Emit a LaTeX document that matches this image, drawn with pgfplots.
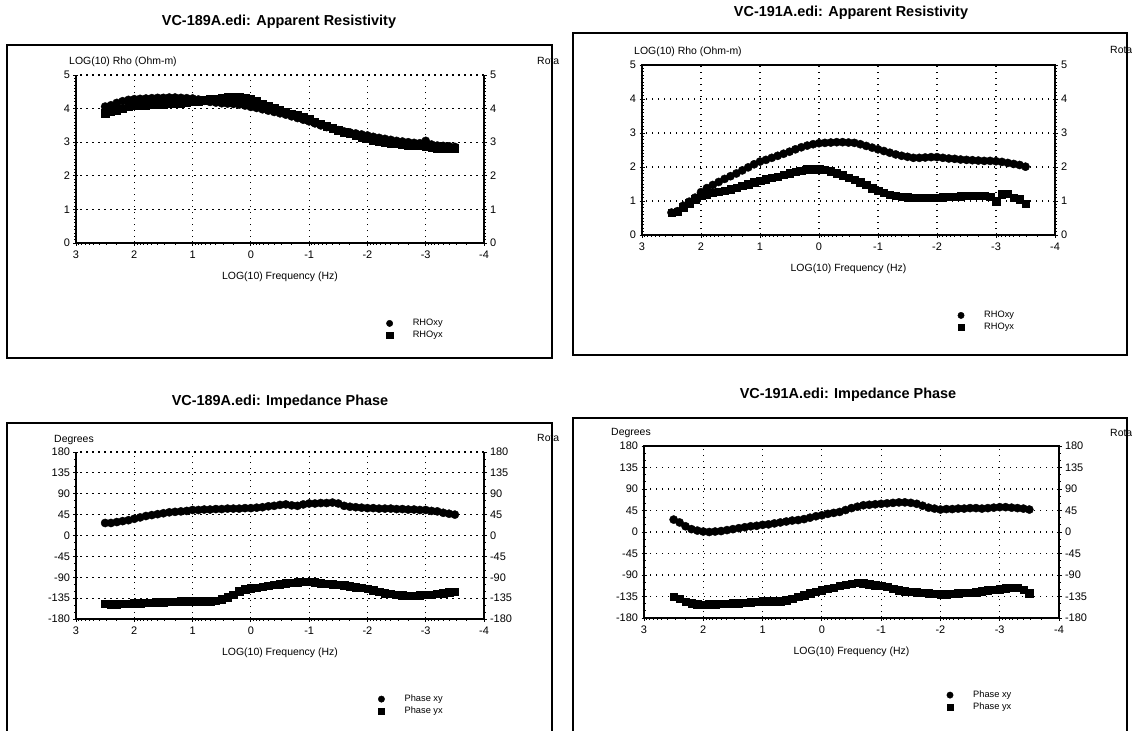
\documentclass[border=0pt]{standalone}
\usepackage{fontspec}
\setmainfont{Liberation Sans}
\usepackage{pgfplots}
\usepackage{pgfplotstable}
\pgfplotsset{compat=1.18}

\newcommand\ttl{\fontsize{14.5}{17}\selectfont\bfseries}
\newcommand\lab{\fontsize{10.5}{12}\selectfont}
\newcommand\tk{\fontsize{11}{13}\selectfont}
\newcommand\lgd{\fontsize{9.3}{11}\selectfont}

% x = log10 frequency, xy / yx = log10 rho
\pgfplotstableread{
x xy yx
2.5 4.06 3.86
2.4 4.10 3.90
2.3 4.17 3.95
2.2 4.22 4.00
2.1 4.26 4.05
2.0 4.28 4.08
1.9 4.29 4.09
1.8 4.30 4.10
1.7 4.31 4.11
1.6 4.32 4.12
1.5 4.32 4.13
1.4 4.33 4.14
1.3 4.33 4.15
1.2 4.32 4.16
1.1 4.31 4.18
1.0 4.30 4.20
0.9 4.27 4.22
0.8 4.23 4.25
0.7 4.20 4.28
0.6 4.18 4.30
0.5 4.16 4.33
0.4 4.15 4.35
0.3 4.14 4.35
0.2 4.12 4.34
0.1 4.09 4.31
0.0 4.05 4.28
-0.1 4.02 4.22
-0.2 3.98 4.15
-0.3 3.94 4.08
-0.4 3.90 4.02
-0.5 3.86 3.96
-0.6 3.82 3.90
-0.7 3.77 3.85
-0.8 3.72 3.80
-0.9 3.67 3.74
-1.0 3.62 3.68
-1.1 3.56 3.61
-1.2 3.50 3.55
-1.3 3.45 3.48
-1.4 3.40 3.42
-1.5 3.36 3.36
-1.6 3.32 3.30
-1.7 3.29 3.25
-1.8 3.26 3.20
-1.9 3.23 3.15
-2.0 3.20 3.10
-2.1 3.16 3.06
-2.2 3.13 3.03
-2.3 3.10 3.00
-2.4 3.07 2.97
-2.5 3.04 2.95
-2.6 3.02 2.92
-2.7 3.00 2.91
-2.8 2.98 2.90
-2.9 2.97 2.89
-3.0 3.04 2.88
-3.1 2.93 2.85
-3.2 2.90 2.82
-3.3 2.89 2.81
-3.4 2.88 2.80
-3.5 2.86 2.82
}\rhoA

\pgfplotstableread{
x xy yx
2.5 0.66 0.66
2.4 0.70 0.68
2.3 0.86 0.82
2.2 0.98 0.94
2.1 1.10 1.05
2.0 1.26 1.15
1.9 1.38 1.20
1.8 1.47 1.24
1.7 1.56 1.27
1.6 1.65 1.31
1.5 1.73 1.35
1.4 1.81 1.40
1.3 1.90 1.45
1.2 1.99 1.50
1.1 2.08 1.55
1.0 2.16 1.60
0.9 2.21 1.64
0.8 2.27 1.68
0.7 2.33 1.72
0.6 2.39 1.77
0.5 2.45 1.82
0.4 2.52 1.86
0.3 2.58 1.90
0.2 2.63 1.93
0.1 2.67 1.94
0.0 2.70 1.94
-0.1 2.71 1.92
-0.2 2.72 1.88
-0.3 2.73 1.82
-0.4 2.73 1.76
-0.5 2.72 1.69
-0.6 2.71 1.62
-0.7 2.67 1.55
-0.8 2.62 1.48
-0.9 2.57 1.38
-1.0 2.52 1.30
-1.1 2.47 1.24
-1.2 2.42 1.19
-1.3 2.37 1.15
-1.4 2.33 1.13
-1.5 2.30 1.11
-1.6 2.27 1.10
-1.7 2.27 1.10
-1.8 2.28 1.10
-1.9 2.29 1.10
-2.0 2.29 1.10
-2.1 2.27 1.11
-2.2 2.25 1.12
-2.3 2.24 1.13
-2.4 2.22 1.14
-2.5 2.21 1.15
-2.6 2.20 1.15
-2.7 2.19 1.16
-2.8 2.18 1.16
-2.9 2.18 1.12
-3.0 2.17 1.00
-3.1 2.15 1.20
-3.2 2.12 1.22
-3.3 2.09 1.10
-3.4 2.06 1.05
-3.5 2.01 0.92
}\rhoB

\pgfplotstableread{
x xy yx
2.5 27 -147
2.4 27 -148
2.3 29 -148
2.2 31 -147
2.1 33 -147
2.0 36 -146
1.9 39 -146
1.8 42 -145
1.7 44 -145
1.6 46 -144
1.5 48 -144
1.4 50 -143
1.3 51 -143
1.2 52 -142
1.1 53 -142
1.0 55 -142
0.9 55 -142
0.8 56 -142
0.7 56 -142
0.6 57 -141
0.5 57 -137
0.4 58 -133
0.3 58 -127
0.2 58 -120
0.1 59 -116
0.0 59 -114
-0.1 60 -112
-0.2 61 -110
-0.3 63 -108
-0.4 64 -106
-0.5 66 -105
-0.6 67 -103
-0.7 65 -102
-0.8 64 -101
-0.9 67 -100
-1.0 69 -100
-1.1 69 -101
-1.2 70 -103
-1.3 70 -104
-1.4 71 -105
-1.5 69 -106
-1.6 64 -107
-1.7 62 -109
-1.8 61 -111
-1.9 60 -113
-2.0 59 -115
-2.1 59 -118
-2.2 58 -121
-2.3 58 -124
-2.4 58 -126
-2.5 57 -128
-2.6 57 -129
-2.7 56 -130
-2.8 56 -130
-2.9 55 -129
-3.0 55 -128
-3.1 53 -127
-3.2 52 -126
-3.3 49 -124
-3.4 47 -122
-3.5 45 -121
}\phaA

\pgfplotstableread{
x xy yx
2.5 26 -135
2.4 20 -140
2.3 12 -146
2.2 6 -149
2.1 3 -151
2.0 1 -152
1.9 0 -151
1.8 1 -151
1.7 2 -150
1.6 4 -150
1.5 6 -149
1.4 8 -149
1.3 10 -148
1.2 12 -147
1.1 13 -146
1.0 15 -145
0.9 16 -145
0.8 18 -145
0.7 20 -145
0.6 22 -143
0.5 24 -140
0.4 25 -136
0.3 27 -132
0.2 30 -128
0.1 33 -125
0.0 35 -122
-0.1 38 -119
-0.2 40 -116
-0.3 42 -113
-0.4 46 -110
-0.5 50 -108
-0.6 53 -106
-0.7 56 -107
-0.8 57 -109
-0.9 58 -111
-1.0 59 -112
-1.1 60 -115
-1.2 61 -119
-1.3 62 -122
-1.4 62 -124
-1.5 61 -125
-1.6 59 -126
-1.7 55 -127
-1.8 51 -128
-1.9 49 -129
-2.0 47 -130
-2.1 48 -130
-2.2 48 -129
-2.3 49 -128
-2.4 49 -127
-2.5 50 -127
-2.6 50 -126
-2.7 49 -124
-2.8 50 -122
-2.9 51 -121
-3.0 52 -120
-3.1 52 -118
-3.2 51 -117
-3.3 50 -116
-3.4 49 -121
-3.5 47 -128
}\phaB

\pgfplotsset{
  mtbase/.style={
    scale only axis, x dir=reverse, xmin=-4, xmax=3,
    tick style={black, line width=0.8bp},
    major tick length=5bp, minor tick length=3bp, tick align=center,
    ticklabel style={font=\tk},
    /pgf/number format/assume math mode=true,
    axis line style={black, line width=1.3bp},
  },
  mtmain/.style={mtbase,
    xtick={3,2,1,0,-1,-2,-3,-4},
    minor xtick={2.954,2.903,2.845,2.778,2.699,2.602,2.477,2.301,
      1.954,1.903,1.845,1.778,1.699,1.602,1.477,1.301,
      0.954,0.903,0.845,0.778,0.699,0.602,0.477,0.301,
      -0.046,-0.097,-0.155,-0.222,-0.301,-0.398,-0.523,-0.699,
      -1.046,-1.097,-1.155,-1.222,-1.301,-1.398,-1.523,-1.699,
      -2.046,-2.097,-2.155,-2.222,-2.301,-2.398,-2.523,-2.699,
      -3.046,-3.097,-3.155,-3.222,-3.301,-3.398,-3.523,-3.699},
    xtick pos=left, ytick pos=left,
    xticklabel style={yshift=-2bp},
    grid=major,
    grid style={black, line width=1.2bp, dash pattern=on 1.5bp off 4.5bp},
    xlabel={LOG(10) Frequency (Hz)},
    xlabel style={font=\lab, at={(axis description cs:0.5,0)}, anchor=center, yshift=-34bp},
    legend cell align=left,
    legend image post style={mark size=3.2bp},
    legend style={draw=none, fill=none, font=\lgd, anchor=north west,
      /tikz/every odd column/.append style={column sep=18bp}},
  },
  mtright/.style={mtbase, axis x line=none, axis y line*=right, xtick=\empty},
  rho/.style={ymin=0, ymax=5, ytick={0,1,2,3,4,5}, minor y tick num=9},
  pha/.style={ymin=-180, ymax=180, ytick={-180,-135,-90,-45,0,45,90,135,180}, minor y tick num=2},
  sxy/.style={only marks, mark=*, mark size=4.1bp, black, mark options={fill=black}},
  syx/.style={only marks, mark=square*, mark size=3.7bp, black, mark options={fill=black}},
}

\begin{document}
\begin{tikzpicture}
\useasboundingbox (0,0) rectangle (1132bp,-731bp);
\fill[white] (0,0) rectangle (1132bp,-731bp);
\clip (0,0) rectangle (1132bp,-731bp);

% frames
\draw[line width=1.8bp] (7bp,-45bp) rectangle (552bp,-358bp);
\draw[line width=1.8bp] (573bp,-33bp) rectangle (1127bp,-355bp);
\draw[line width=1.8bp] (7bp,-740bp) -- (7bp,-423bp) -- (552bp,-423bp) -- (552bp,-740bp);
\draw[line width=1.8bp] (573bp,-740bp) -- (573bp,-418bp) -- (1127bp,-418bp) -- (1127bp,-740bp);

% titles and labels
\node[font=\ttl] at (279bp,-22bp) {VC-189A.edi: Apparent Resistivity};
\node[font=\ttl] at (851bp,-13bp) {VC-191A.edi: Apparent Resistivity};
\node[font=\ttl] at (280bp,-402bp) {VC-189A.edi: Impedance Phase};
\node[font=\ttl] at (848bp,-395bp) {VC-191A.edi: Impedance Phase};
\node[font=\lab, anchor=west, inner sep=0pt] at (69bp,-62bp) {LOG(10) Rho (Ohm-m)};
\node[font=\lab, anchor=west, inner sep=0pt] at (634bp,-52bp) {LOG(10) Rho (Ohm-m)};
\node[font=\lab, anchor=west, inner sep=0pt] at (54bp,-440bp) {Degrees};
\node[font=\lab, anchor=west, inner sep=0pt] at (611bp,-433bp) {Degrees};
\node[font=\lab, anchor=west, inner sep=0pt] at (537bp,-61bp) {Rota};
\node[font=\lab, anchor=west, inner sep=0pt] at (1110bp,-50bp) {Rota};
\node[font=\lab, anchor=west, inner sep=0pt] at (537bp,-438bp) {Rota};
\node[font=\lab, anchor=west, inner sep=0pt] at (1110bp,-433bp) {Rota};

% VC-189A resistivity
\begin{axis}[mtmain, rho, at={(76bp,-243bp)}, anchor=south west, width=408bp, height=168bp,
  axis x line*=bottom, axis y line*=left, x axis line style={-}, y axis line style={-},
  legend style={at={(axis description cs:0.753,-0.43)}}]
\addplot[sxy] table[x=x, y=xy] {\rhoA};
\addplot[syx] table[x=x, y=yx] {\rhoA};
\legend{RHOxy, RHOyx}
\end{axis}
\begin{axis}[mtright, rho, at={(76bp,-243bp)}, anchor=south west, width=408bp, height=168bp, y axis line style={-}]
\end{axis}

% VC-191A resistivity
\begin{axis}[mtmain, rho, at={(642bp,-235bp)}, anchor=south west, width=413bp, height=170bp,
  legend style={at={(axis description cs:0.757,-0.425)}}]
\addplot[sxy] table[x=x, y=xy] {\rhoB};
\addplot[syx] table[x=x, y=yx] {\rhoB};
\legend{RHOxy, RHOyx}
\end{axis}
\begin{axis}[mtright, rho, at={(642bp,-235bp)}, anchor=south west, width=413bp, height=170bp, y axis line style={-}]
\end{axis}

% VC-189A phase
\begin{axis}[mtmain, pha, at={(76bp,-619bp)}, anchor=south west, width=408bp, height=167bp,
  axis x line*=bottom, axis y line*=left, x axis line style={-}, y axis line style={-},
  legend style={at={(axis description cs:0.733,-0.43)}}]
\addplot[sxy] table[x=x, y=xy] {\phaA};
\addplot[syx] table[x=x, y=yx] {\phaA};
\legend{Phase xy, Phase yx}
\end{axis}
\begin{axis}[mtright, pha, at={(76bp,-619bp)}, anchor=south west, width=408bp, height=167bp, y axis line style={-}]
\end{axis}

% VC-191A phase
\begin{axis}[mtmain, pha, at={(644bp,-618bp)}, anchor=south west, width=415bp, height=172bp,
  legend style={at={(axis description cs:0.722,-0.4)}}]
\addplot[sxy] table[x=x, y=xy] {\phaB};
\addplot[syx] table[x=x, y=yx] {\phaB};
\legend{Phase xy, Phase yx}
\end{axis}
\begin{axis}[mtright, pha, at={(644bp,-618bp)}, anchor=south west, width=415bp, height=172bp, y axis line style={-}]
\end{axis}
\end{tikzpicture}
\end{document}
